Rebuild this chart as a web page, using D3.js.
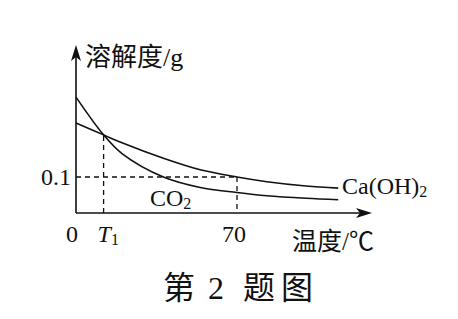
<!DOCTYPE html>
<html>
<head>
<meta charset="utf-8">
<script src="https://cdn.jsdelivr.net/npm/d3@7"></script>
<style>
  body { margin: 0; background: #fff; }
  text { font-family: "Liberation Serif", "Noto Sans CJK SC", serif; fill: #111; }
</style>
</head>
<body>
<div id="plot"></div>
<script>
// temperature (°C) and solubility (g)
var temps = [0, 12, 20, 38, 54, 70, 83, 100, 114];
var caOH2 = [0.25, 0.217, 0.195, 0.152, 0.12, 0.1, 0.087, 0.075, 0.069];
var co2 = [0.322, 0.217, 0.165, 0.1, 0.071, 0.057, 0.048, 0.041, 0.037];
var xTicks = [0, 70];
var yTicks = [0.1];
var t1 = 12;

(function() {
  var width = 458, height = 319;

  var svg = d3.select("div#plot")
    .append("svg")
    .attr("width", width)
    .attr("height", height);

  // scales: 0..70 °C and 0..0.1 g fixed by the labelled positions
  var x = d3.scaleLinear().domain([0, 70]).range([76, 237]);
  var y = d3.scaleLinear().domain([0, 0.1]).range([213, 177]);

  var xEnd = 372, yTop = 45;

  // axes with arrow heads
  svg.append("line")
    .attr("x1", x(0)).attr("y1", y(0))
    .attr("x2", xEnd - 8).attr("y2", y(0))
    .attr("stroke", "#111").attr("stroke-width", 1.6);
  svg.append("line")
    .attr("x1", x(0)).attr("y1", y(0))
    .attr("x2", x(0)).attr("y2", yTop + 8)
    .attr("stroke", "#111").attr("stroke-width", 1.6);

  svg.append("path")
    .attr("d", "M" + xEnd + "," + y(0) + "l-16,-5l4,5l-4,5z")
    .attr("fill", "#111");
  svg.append("path")
    .attr("d", "M" + x(0) + "," + yTop + "l-5,16l5,-4l5,4z")
    .attr("fill", "#111");

  // dashed guide lines
  var dash = "5,4";
  var guides = [
    [x(t1), y(0), x(t1), y(caOH2[1])],
    [x(0), y(0.1), x(70), y(0.1)],
    [x(70), y(0.1), x(70), y(0)]
  ];
  svg.selectAll(".guide")
    .data(guides)
    .enter().append("line")
    .attr("class", "guide")
    .attr("x1", function(d) { return d[0]; })
    .attr("y1", function(d) { return d[1]; })
    .attr("x2", function(d) { return d[2]; })
    .attr("y2", function(d) { return d[3]; })
    .attr("stroke", "#111")
    .attr("stroke-width", 1.3)
    .attr("stroke-dasharray", dash);

  // the two curves
  var line = d3.line()
    .x(function(d) { return x(d[0]); })
    .y(function(d) { return y(d[1]); })
    .curve(d3.curveCatmullRom.alpha(0.5));

  [caOH2, co2].forEach(function(series) {
    svg.append("path")
      .attr("d", line(d3.zip(temps, series)))
      .attr("fill", "none")
      .attr("stroke", "#111")
      .attr("stroke-width", 1.6);
  });

  // tick labels
  svg.selectAll(".xtick")
    .data(xTicks)
    .enter().append("text")
    .attr("class", "xtick")
    .attr("x", function(d) { return d === 0 ? x(d) - 4 : x(d) - 3; })
    .attr("y", 242)
    .attr("text-anchor", "middle")
    .attr("font-size", 24)
    .text(function(d) { return d; });

  var t1Label = svg.append("text")
    .attr("x", x(t1) - 6)
    .attr("y", 242)
    .attr("font-size", 24);
  t1Label.append("tspan").attr("font-style", "italic").text("T");
  t1Label.append("tspan").attr("font-size", 16).attr("dy", 3).text("1");

  svg.selectAll(".ytick")
    .data(yTicks)
    .enter().append("text")
    .attr("class", "ytick")
    .attr("x", x(0) - 5)
    .attr("y", function(d) { return y(d) + 8; })
    .attr("text-anchor", "end")
    .attr("font-size", 24)
    .text(function(d) { return d; });

  // axis titles
  svg.append("text")
    .attr("x", 85).attr("y", 66)
    .attr("font-size", 26)
    .text("溶解度/g");

  svg.append("text")
    .attr("x", 292).attr("y", 250)
    .attr("font-size", 25)
    .text("温度/℃");

  // series labels
  var coLabel = svg.append("text")
    .attr("x", 150).attr("y", 206)
    .attr("font-size", 24);
  coLabel.append("tspan").text("CO");
  coLabel.append("tspan").attr("font-size", 16).attr("dy", 3).text("2");

  var caLabel = svg.append("text")
    .attr("x", 342).attr("y", 194)
    .attr("font-size", 24);
  caLabel.append("tspan").text("Ca(OH)");
  caLabel.append("tspan").attr("font-size", 16).attr("dy", 3).text("2");

  // caption, spaced out like the printed figure
  var caption = svg.append("text")
    .attr("y", 299)
    .attr("text-anchor", "middle")
    .attr("font-size", 32);
  caption.append("tspan").attr("x", 179).text("第");
  caption.append("tspan").attr("x", 216).text("2");
  caption.append("tspan").attr("x", 259).text("题");
  caption.append("tspan").attr("x", 297).text("图");
})();
</script>
</body>
</html>
